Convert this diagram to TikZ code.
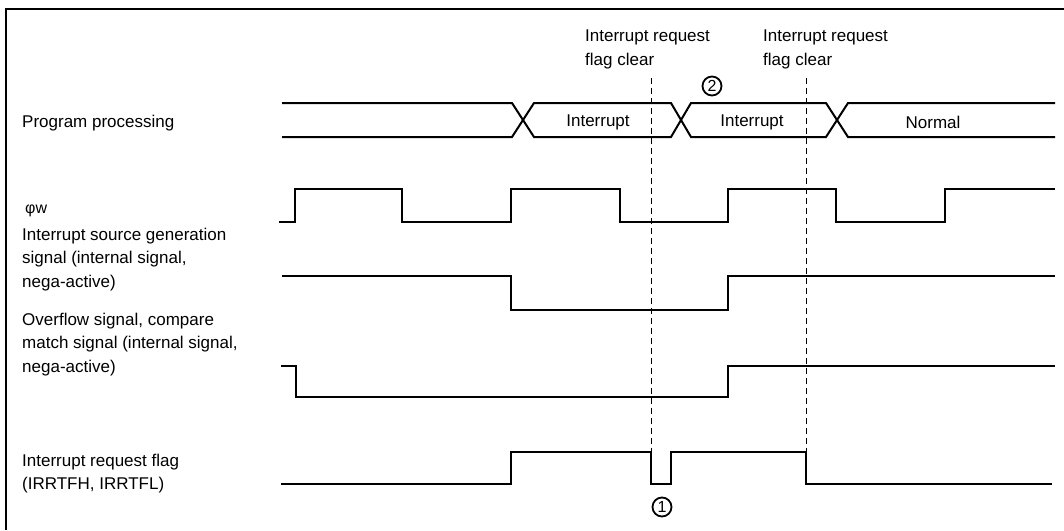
\documentclass[tikz,border=0pt]{standalone}
\usepackage{fontspec}
\setmainfont{Liberation Sans}
\usepackage{tikz}

\begin{document}
\begin{tikzpicture}[x=1pt,y=-1pt,
  wave/.style={line width=2pt,line join=miter},
  guide/.style={dashed,line width=0.8pt,dash pattern=on 6pt off 4pt},
  lbl/.style={anchor=west,align=left,inner sep=0pt,font=\fontsize{17}{23.8}\selectfont},
  num/.style={circle,draw,line width=1.8pt,minimum size=19pt,inner sep=0pt,font=\fontsize{16}{16}\selectfont}]
\useasboundingbox (0,0) rectangle (1064,530);
% frame
\draw[line width=2pt] (6,530) -- (6,9) -- (1064,9);
% signal names
\node[lbl] (prog) at (22,123) {Program processing};
\node[anchor=west,inner sep=0pt,font=\fontsize{16}{18}\selectfont] (phiw) at (25,211) {φw};
\node[lbl] (src) at (22,259.5) {Interrupt source generation\\signal (internal signal,\\nega-active)};
\node[lbl] (ovf) at (22,344.5) {Overflow signal, compare\\match signal (internal signal,\\nega-active)};
\node[lbl] (flag) at (22,473.5) {Interrupt request flag\\(IRRTFH, IRRTFL)};
% clear markers
\node[lbl] (clr1) at (585,49.5) {Interrupt request\\flag clear};
\node[lbl] (clr2) at (763,49.5) {Interrupt request\\flag clear};
\coordinate (c1top) at (651,78);
\coordinate (c1bot) at (651,452);
\coordinate (c2top) at (806,78);
\coordinate (c2bot) at (806,452);
\draw[guide] (c1top) -- (c1bot);
\draw[guide] (c2top) -- (c2bot);
% program processing bus
\draw[wave] (282,103) -- (512,103) -- (534,137) -- (671,137) -- (691,103) -- (826,103) -- (848,137) -- (1055,137);
\draw[wave] (282,137) -- (512,137) -- (534,103) -- (671,103) -- (691,137) -- (826,137) -- (848,103) -- (1055,103);
\node[lbl,anchor=center] (int1) at (598,122) {Interrupt};
\node[lbl,anchor=center] (int2) at (752,122) {Interrupt};
\node[lbl,anchor=center] (norm) at (933,122) {Normal};
% phi w
\draw[wave] (279,222) -- (295,222) -- (295,189) -- (402,189) -- (402,222) -- (511,222)
  -- (511,189) -- (620,189) -- (620,222) -- (728,222) -- (728,189) -- (836,189)
  -- (836,222) -- (945,222) -- (945,189) -- (1055,189);
% interrupt source generation signal
\draw[wave] (282,276) -- (511,276) -- (511,310) -- (728,310) -- (728,276) -- (1055,276);
% overflow / compare match
\draw[wave] (281,366) -- (296,366) -- (296,397) -- (728,397) -- (728,366) -- (1055,366);
% interrupt request flag
\draw[wave] (281,484) -- (511,484) -- (511,452) -- (651,452) -- (651,484) -- (671,484)
  -- (671,452) -- (806,452) -- (806,484) -- (1052,484);
% numbered marks
\node[num] (n1) at (662,507) {1};
\node[num] (n2) at (712,86) {2};
\end{tikzpicture}
\end{document}
